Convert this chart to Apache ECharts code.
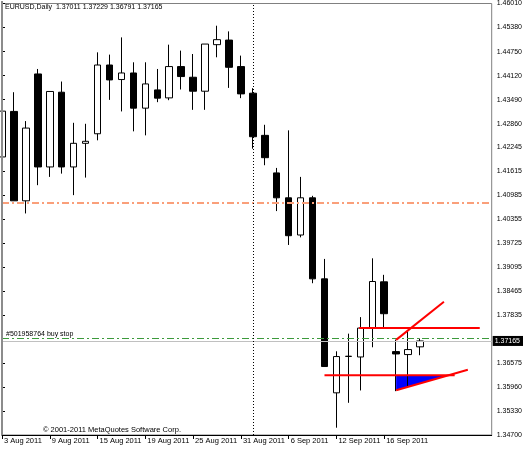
<!DOCTYPE html>
<html>
<head>
<meta charset="utf-8">
<script src="https://cdn.jsdelivr.net/npm/echarts@6/dist/echarts.min.js"></script>
<style>
html,body{margin:0;padding:0;background:#fff;}
#chart{width:525px;height:450px;}
</style>
</head>
<body>
<div id="chart"></div>
<script>
const dates = ["3 Aug 2011","4 Aug 2011","5 Aug 2011","8 Aug 2011","9 Aug 2011","10 Aug 2011","11 Aug 2011","12 Aug 2011","15 Aug 2011","16 Aug 2011","17 Aug 2011","18 Aug 2011","19 Aug 2011","22 Aug 2011","23 Aug 2011","24 Aug 2011","25 Aug 2011","26 Aug 2011","29 Aug 2011","30 Aug 2011","31 Aug 2011","1 Sep 2011","2 Sep 2011","5 Sep 2011","6 Sep 2011","7 Sep 2011","8 Sep 2011","9 Sep 2011","12 Sep 2011","13 Sep 2011","14 Sep 2011","15 Sep 2011","16 Sep 2011","19 Sep 2011","20 Sep 2011","21 Sep 2011"];
const open  = [1.41988,1.43181,1.40838,1.44163,1.41726,1.43685,1.41726,1.42345,1.42596,1.44398,1.44017,1.44189,1.43267,1.43745,1.43536,1.44357,1.44077,1.43711,1.44931,1.45051,1.44357,1.43659,1.42554,1.41570,1.40917,1.39942,1.40917,1.38793,1.35805,1.36764,1.36745,1.37503,1.38715,1.36886,1.36808,1.37011];
const high  = [1.43424,1.43685,1.42928,1.44294,1.43704,1.43965,1.42883,1.42857,1.44730,1.44670,1.45122,1.44469,1.44469,1.44294,1.44931,1.44775,1.44686,1.44947,1.45428,1.45279,1.44644,1.43790,1.42831,1.41700,1.42685,1.41465,1.40969,1.39315,1.36894,1.37356,1.37790,1.39331,1.38898,1.37200,1.37417,1.37229];
const low   = [1.41413,1.40838,1.40507,1.41248,1.41465,1.41551,1.40987,1.41447,1.42424,1.43484,1.43181,1.42659,1.42554,1.43424,1.43476,1.43756,1.43223,1.43223,1.44600,1.43798,1.43529,1.42204,1.41771,1.40569,1.39681,1.39880,1.38678,1.36495,1.34891,1.35544,1.35868,1.36999,1.37503,1.35849,1.35936,1.36791];
const close = [1.43189,1.40838,1.42745,1.41726,1.43704,1.41726,1.42345,1.42398,1.44398,1.44007,1.44189,1.43267,1.43902,1.43529,1.44357,1.44095,1.43711,1.44947,1.45062,1.44338,1.43641,1.42518,1.41969,1.40917,1.39924,1.40917,1.38793,1.36495,1.36756,1.36760,1.37503,1.38723,1.37879,1.36824,1.36939,1.37165];

const priceTicks = [1.46010,1.45380,1.44750,1.44120,1.43490,1.42860,1.42245,1.41615,1.40985,1.40355,1.39725,1.39095,1.38465,1.37835,1.36575,1.35960,1.35330,1.34700];
const dateTickIdx = [0,4,8,12,16,20,24,28,32];

const bidPrice = 1.37165;
const buyStopPrice = 1.37236;
const orangeLevel = 1.40780;
const separatorIdx = [21];

// Drawn objects (x = bar index, y = price)
const upperHLineX = [29.9, 40.0];   const upperHLineY = [1.37503, 1.37503];
const lowerHLineX = [27.0, 37.9];   const lowerHLineY = [1.36264, 1.36264];
const upTrendX    = [33.0, 37.0];   const upTrendY    = [1.37194, 1.38192];
const lowTrendX   = [33.0, 39.0];   const lowTrendY   = [1.35873, 1.36412];
const triangleX   = [33.0, 33.0, 37.35];
const triangleY   = [1.36264, 1.35873, 1.36264];

const FONT = 'Liberation Sans';
const last = close.length - 1;
const candleData = dates.map((d, i) => [i, open[i], close[i], low[i], high[i]]);
const pairs = (xs, ys) => xs.map((x, i) => [x, ys[i]]);

function redLine(xs, ys) {
  return {
    type: 'line', data: pairs(xs, ys), symbol: 'none', z: 5,
    lineStyle: {color: '#ff0000', width: 2}, silent: true, animation: false
  };
}

const chart = echarts.init(document.getElementById('chart'), null, {renderer: 'canvas'});
chart.setOption({
  animation: false,
  backgroundColor: '#ffffff',
  grid: {left: 2, right: 30, top: 1, bottom: 15, show: true, borderColor: '#808080', borderWidth: 1, backgroundColor: '#ffffff'},
  xAxis: {
    type: 'value', min: 0, max: 41,
    splitLine: {show: false},
    axisLine: {show: true, onZero: false, lineStyle: {color: '#000', width: 1}},
    axisTick: {show: true, customValues: dateTickIdx, length: 4, lineStyle: {color: '#000'}},
    axisLabel: {
      customValues: dateTickIdx, align: 'left', margin: 2, padding: [0,0,0,2],
      fontFamily: FONT, fontSize: 7.5, color: '#000',
      formatter: v => dates[Math.round(v)] || ''
    }
  },
  yAxis: {
    type: 'value', position: 'right', min: 1.3470, max: 1.4601, scale: true,
    splitLine: {show: false},
    axisLine: {show: true, lineStyle: {color: '#000', width: 1}},
    axisTick: {show: true, customValues: priceTicks, length: 3, lineStyle: {color: '#000'}},
    axisLabel: {
      customValues: priceTicks, margin: 5, fontFamily: FONT, fontSize: 7, color: '#000',
      formatter: v => v.toFixed(5)
    }
  },
  graphic: [
    {type: 'text', left: 5, top: 4, z: 100,
     style: {text: 'EURUSD,Daily  ' + [open[last], high[last], low[last], close[last]].map(v => v.toFixed(5)).join(' '),
             font: '7px "' + FONT + '"', fill: '#000'}},
    {type: 'text', left: 43, top: 426, z: 100,
     style: {text: '\u00a9 2001-2011 MetaQuotes Software Corp.', font: '7.5px "' + FONT + '"', fill: '#000'}},
    {type: 'rect', shape: {x: 1, y: 1, width: 2, height: 434}, style: {fill: '#8c8c8c'}, z: 100}
  ],
  series: [
    {
      type: 'custom', z: 1, silent: true,
      data: [[triangleX[0], triangleY[0]]],
      renderItem: function (params, api) {
        const pts = triangleX.map((x, i) => api.coord([x, triangleY[i]]));
        return {type: 'polygon', shape: {points: pts}, style: {fill: '#0000ff'}};
      }
    },
    {
      type: 'candlestick', z: 3,
      data: candleData,
      encode: {x: 0, y: [1, 2, 3, 4]},
      barWidth: 7,
      clip: true,
      itemStyle: {color: '#ffffff', color0: '#000000', borderColor: '#000000', borderColor0: '#000000', borderColorDoji: '#000000', borderWidth: 1},
      markLine: {
        silent: true, symbol: ['none', 'none'], animation: false, precision: 5,
        data: [
          {yAxis: orangeLevel, lineStyle: {color: '#fa9f7a', width: 2, type: [7, 3, 2, 3]}, label: {show: false}},
          {yAxis: buyStopPrice, lineStyle: {color: '#3c9a3c', width: 1, type: [7, 3, 2, 3]},
           label: {show: true, position: 'insideStartTop', formatter: '#501958764 buy stop', fontFamily: FONT, fontSize: 7, color: '#000', distance: [4, 1]}},
          {yAxis: bidPrice, lineStyle: {color: '#c0c0c0', width: 1, type: 'solid'},
           label: {show: true, position: 'end', formatter: p => Number(p.value).toFixed(5), fontFamily: FONT, fontSize: 7, color: '#fff',
                   backgroundColor: '#000', padding: [2, 3, 1, 2], distance: 1}},
          {xAxis: separatorIdx[0], lineStyle: {color: '#000', width: 1, type: [1, 2]}, label: {show: false}}
        ]
      }
    },
    redLine(upperHLineX, upperHLineY),
    redLine(lowerHLineX, lowerHLineY),
    redLine(upTrendX, upTrendY),
    redLine(lowTrendX, lowTrendY)
  ]
});
</script>
</body>
</html>
